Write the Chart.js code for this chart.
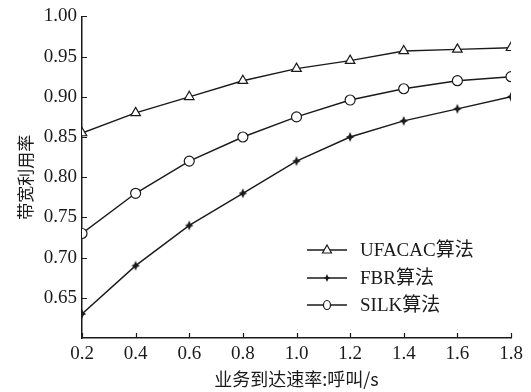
<!DOCTYPE html>
<html>
<head>
<meta charset="utf-8">
<script src="https://cdn.jsdelivr.net/npm/chart.js@4/dist/chart.umd.min.js"></script>
<style>
  html, body { margin: 0; padding: 0; background: #fff; }
  canvas { display: block; }
</style>
</head>
<body>
<canvas id="c" width="531" height="392"></canvas>
<script>
// Arrival rate (calls/s) on the x axis
const arrivalRates = [0.2, 0.4, 0.6, 0.8, 1.0, 1.2, 1.4, 1.6, 1.8];
// Bandwidth utilisation of each algorithm
const ufacac = [0.855, 0.880, 0.900, 0.920, 0.935, 0.945, 0.957, 0.959, 0.961];
const fbr    = [0.630, 0.690, 0.740, 0.780, 0.820, 0.850, 0.870, 0.885, 0.900];
const silk   = [0.730, 0.780, 0.820, 0.850, 0.875, 0.896, 0.910, 0.920, 0.925];
const seriesNames = ['UFACAC算法', 'FBR算法', 'SILK算法'];
const xTitle = '业务到达速率:呼叫/s';
const yTitle = '带宽利用率';

const SERIF = '"Liberation Serif", "Times New Roman", "Noto Sans CJK SC", serif';
const CJK = '"Noto Sans CJK SC", "Liberation Serif", sans-serif';
const INK = '#1a1a1a';

// small filled four-point star used as the FBR marker
function starMarker(r) {
  const s = Math.ceil(r * 2 + 2);
  const cv = document.createElement('canvas');
  cv.width = s; cv.height = s;
  const g = cv.getContext('2d');
  const c = s / 2, k = r * 0.3;
  g.fillStyle = INK;
  g.beginPath();
  g.moveTo(c, c - r);
  g.lineTo(c + k, c - k);
  g.lineTo(c + r * 0.85, c);
  g.lineTo(c + k, c + k);
  g.lineTo(c, c + r);
  g.lineTo(c - k, c + k);
  g.lineTo(c - r * 0.85, c);
  g.lineTo(c - k, c - k);
  g.closePath();
  g.fill();
  return cv;
}
const fbrMarker = starMarker(5);
const fbrLegendMarker = starMarker(4);

function pts(values) {
  return values.map((v, i) => ({ x: arrivalRates[i], y: v }));
}

// inward tick marks on both axes
const inwardTicks = {
  id: 'inwardTicks',
  afterDatasetsDraw(chart) {
    const { ctx, scales: { x, y } } = chart;
    ctx.save();
    ctx.strokeStyle = INK;
    ctx.lineWidth = 1.2;
    ctx.beginPath();
    x.ticks.forEach(t => {
      const px = Math.round(x.getPixelForValue(t.value)) + 0.5;
      ctx.moveTo(px, y.bottom);
      ctx.lineTo(px, y.bottom - 5);
    });
    y.ticks.forEach(t => {
      if (t.value < 0.64) return;
      const py = Math.round(y.getPixelForValue(t.value)) + 0.5;
      ctx.moveTo(x.left, py);
      ctx.lineTo(x.left + 5, py);
    });
    ctx.stroke();
    ctx.restore();
  }
};

// legend inside the plot: short line with marker, then the name
const lineLegend = {
  id: 'lineLegend',
  afterDraw(chart) {
    const ctx = chart.ctx;
    const x0 = 307, x1 = 347, xm = 327, xt = 360;
    const rows = [250, 278, 305];
    ctx.save();
    chart.data.datasets.forEach((ds, i) => {
      const yy = rows[i];
      ctx.strokeStyle = INK;
      ctx.lineWidth = 1.3;
      ctx.beginPath();
      ctx.moveTo(x0, yy);
      ctx.lineTo(x1, yy);
      ctx.stroke();
      if (ds.legendMarker === 'star') {
        ctx.drawImage(fbrLegendMarker, xm - fbrLegendMarker.width / 2, yy - fbrLegendMarker.height / 2);
      } else {
        ctx.fillStyle = '#fff';
        ctx.lineWidth = 1.2;
        ctx.beginPath();
        if (ds.legendMarker === 'triangle') {
          ctx.moveTo(xm, yy - 5);
          ctx.lineTo(xm + 4.5, yy + 3);
          ctx.lineTo(xm - 4.5, yy + 3);
          ctx.closePath();
        } else {
          ctx.ellipse(xm, yy, 3.5, 4.5, 0, 0, Math.PI * 2);
        }
        ctx.fill();
        ctx.stroke();
      }
      ctx.fillStyle = INK;
      ctx.font = '19px ' + SERIF;
      ctx.textAlign = 'left';
      ctx.textBaseline = 'middle';
      ctx.fillText(ds.label, xt, yy + 1);
    });
    ctx.restore();
  }
};

const common = {
  borderColor: INK,
  borderWidth: 1.4,
  pointBorderColor: INK,
  pointBorderWidth: 1.2,
  pointBackgroundColor: '#fff',
  tension: 0,
  fill: false
};

new Chart(document.getElementById('c'), {
  type: 'line',
  data: {
    datasets: [
      Object.assign({}, common, { label: seriesNames[0], data: pts(ufacac), pointStyle: 'triangle', pointRadius: 5.5, legendMarker: 'triangle' }),
      Object.assign({}, common, { label: seriesNames[1], data: pts(fbr), pointStyle: fbrMarker, pointRadius: 5, legendMarker: 'star' }),
      Object.assign({}, common, { label: seriesNames[2], data: pts(silk), pointStyle: 'circle', pointRadius: 5, legendMarker: 'circle' })
    ]
  },
  options: {
    responsive: false,
    animation: false,
    events: [],
    layout: { padding: { top: 16, right: 20, bottom: 0, left: 0 } },
    plugins: { legend: { display: false }, tooltip: { enabled: false } },
    scales: {
      x: {
        type: 'linear',
        min: 0.2, max: 1.8,
        afterFit(s) { s.height = 54; },
        border: { display: true, color: INK, width: 1.5 },
        grid: { display: true, drawOnChartArea: false, drawTicks: false },
        ticks: {
          stepSize: 0.2,
          padding: 5,
          color: INK,
          font: { family: SERIF, size: 19 },
          callback: v => v.toFixed(1)
        },
        title: {
          display: true,
          text: xTitle,
          color: INK,
          font: { family: CJK, size: 18 },
          padding: { top: 0, bottom: 2 }
        }
      },
      y: {
        type: 'linear',
        min: 0.6, max: 1.0,
        afterFit(s) { s.width = 82; },
        border: { display: true, color: INK, width: 1.5 },
        grid: { display: true, drawOnChartArea: false, drawTicks: false },
        ticks: {
          stepSize: 0.05,
          padding: 5,
          color: INK,
          font: { family: SERIF, size: 19 },
          callback: v => (v < 0.64 ? '' : v.toFixed(2))
        },
        title: {
          display: true,
          text: yTitle,
          color: INK,
          font: { family: CJK, size: 17 },
          padding: { top: 15, bottom: 0 }
        }
      }
    }
  },
  plugins: [inwardTicks, lineLegend]
});
</script>
</body>
</html>
